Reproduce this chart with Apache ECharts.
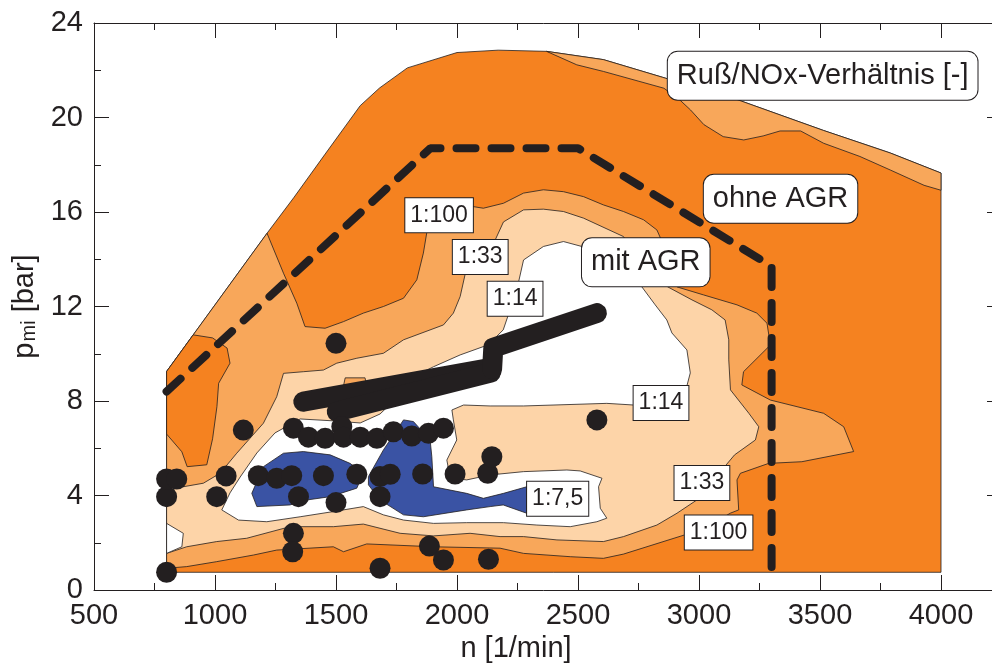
<!DOCTYPE html>
<html>
<head>
<meta charset="utf-8">
<script src="https://cdn.jsdelivr.net/npm/echarts/dist/echarts.min.js"></script>
<style>
  html, body { margin: 0; padding: 0; background: #fff; }
  #chart { width: 992px; height: 664px; }
</style>
</head>
<body>
<div id="chart"></div>
<script>
// contour regions of the Ruß/NOx map, [n 1/min, p_mi bar]
const envelope = [[800,0.75],[800,9.25],[1215,15.1],[1325,16.6],[1455,18.45],[1600,20.5],[1680,21.25],[1795,22.1],[2000,22.75],[2170,22.85],[2370,22.8],[2605,22.45],[2850,21.7],[3160,20.75],[3515,19.45],[3790,18.5],[4000,17.65],[4000,0.75]]
const stripTop = [[2370,22.8],[2605,22.45],[2850,21.7],[3160,20.75],[3515,19.45],[3790,18.5],[4000,17.65],[4000,16.92],[3930,17.13],[3790,17.78],[3665,18.35],[3515,18.91],[3420,19.43],[3335,19.43],[3265,19.22],[3185,19.05],[3100,19.19],[3020,19.7],[2965,20.32],[2920,20.75],[2855,21.24],[2605,21.95],[2495,22.23]]
const zone100 = [[800,9.25],[1215,15.1],[1283,13.41],[1338,12.14],[1372,11.15],[1455,11.08],[1531,11.36],[1613,11.72],[1696,12.0],[1779,12.35],[1834,13.13],[1861,14.26],[1875,15.12],[1930,15.88],[2066,16.23],[2109,16.16],[2192,16.37],[2275,16.8],[2357,16.94],[2440,16.86],[2523,16.65],[2605,16.3],[2688,16.02],[2771,15.67],[2826,15.24],[2881,13.97],[2909,12.83],[3019,12.49],[3157,12.07],[3239,11.72],[3281,11.29],[3295,10.37],[3184,9.24],[3177,8.68],[3295,8.04],[3515,7.48],[3598,6.91],[3639,5.86],[3425,5.43],[3288,5.36],[3171,4.94],[3157,4.66],[3164,3.39],[3129,3.25],[3047,2.75],[2940,2.33],[2688,1.52],[2605,1.34],[2468,1.41],[2275,1.55],[2178,1.77],[1903,1.83],[1627,1.95],[1531,1.62],[1489,1.83],[1255,1.69],[1159,1.48],[1007,1.2],[883,0.99],[800,0.92]]
const islandLow = [[800,6.6],[800,9.25],[910,10.8],[990,10.67],[1050,10.24],[1062,9.6],[1015,8.75],[1008,7.76],[990,6.4],[966,5.3],[885,5.22],[863,5.85]]
const patch100 = [[1529,8.55],[1538,8.98],[1620,8.98],[1629,8.55]]
const zone33 = [[800,1.55],[883,1.83],[1007,2.05],[1131,2.19],[1310,2.68],[1489,2.68],[1613,2.79],[1765,2.4],[1903,2.29],[2054,2.4],[2178,2.26],[2275,2.26],[2413,2.12],[2605,2.05],[2688,2.26],[2826,2.75],[2909,3.25],[2991,3.81],[3071,4.66],[3106,5.22],[3147,5.72],[3233,6.35],[3247,6.91],[3206,7.48],[3130,8.47],[3123,9.74],[3123,10.59],[3108,11.43],[3053,11.86],[2971,12.28],[2871,12.83],[2757,13.76],[2688,14.96],[2523,15.74],[2440,16.02],[2357,16.12],[2275,16.09],[2192,15.58],[2158,14.82],[2054,13.89],[2034,13.38],[2013,12.42],[1985,11.72],[1944,11.22],[1779,10.59],[1696,10.02],[1586,9.81],[1503,9.6],[1448,9.31],[1365,9.24],[1283,9.17],[1255,8.18],[1200,7.06],[1090,5.79],[1021,4.94],[952,4.52],[869,4.37],[800,4.37]]
const zone14 = [[1028,3.39],[1062,4.11],[1104,4.78],[1173,5.8],[1248,6.65],[1352,7.24],[1488,7.16],[1600,7.07],[1682,7.45],[1765,8.26],[1819,9.02],[1903,9.45],[2013,9.95],[2108,10.3],[2137,10.46],[2191,11.01],[2247,12.7],[2275,13.97],[2357,14.54],[2440,14.75],[2516,14.54],[2633,13.97],[2764,12.83],[2819,12.07],[2867,11.43],[2888,10.88],[2950,10.16],[2964,9.19],[2950,8.64],[2902,8.26],[2730,7.83],[2619,7.9],[2275,7.79],[2137,7.79],[2027,7.83],[1979,7.62],[1985,7.2],[1999,6.35],[1958,5.5],[1972,4.74],[2040,4.66],[2137,4.87],[2275,5.01],[2454,5.08],[2509,5.04],[2599,4.73],[2585,4.37],[2592,3.46],[2619,3.04],[2578,2.89],[2468,2.68],[2330,2.75],[2192,2.85],[2040,2.85],[1903,2.82],[1779,2.96],[1696,3.18],[1613,3.53],[1489,3.32],[1352,3.1],[1214,2.89],[1097,2.96]]
const hole14 = [[800,2.82],[869,2.4],[863,1.83],[800,1.55]]
const blueLeft = [[1152,4.09],[1200,5.22],[1283,5.79],[1365,5.86],[1476,5.72],[1558,5.36],[1613,4.94],[1586,4.31],[1476,3.95],[1379,3.81],[1310,3.6],[1173,3.53]]
const blueRight = [[1634,4.8],[1696,5.93],[1779,7.2],[1820,7.13],[1889,6.35],[1896,5.64],[1903,4.37],[2040,4.09],[2109,3.88],[2192,4.09],[2288,4.37],[2288,3.25],[2191,3.6],[2137,3.53],[2040,3.39],[1861,3.1],[1779,3.18],[1682,3.81],[1634,4.45]]

// measured operating points
const points = [[800,0.75],[800,3.95],[800,4.7],[842,4.7],[1007,3.95],[1046,4.83],[1117,6.77],[1500,10.44],[1179,4.84],[1255,4.73],[1317,4.84],[1345,3.95],[1448,4.84],[1500,3.7],[1586,4.9],[1682,4.8],[1724,4.9],[1682,3.95],[1858,4.91],[1992,4.91],[2127,4.94],[2144,5.64],[2578,7.2],[1324,2.4],[1321,1.62],[1682,0.92],[1886,1.86],[1944,1.27],[2130,1.3],[1324,6.85],[1386,6.47],[1455,6.42],[1524,6.91],[1531,6.47],[1600,6.47],[1669,6.42],[1737,6.7],[1813,6.52],[1882,6.63],[1944,6.85]]
const sweepA = [[1365,7.97],[2140,9.4]]
const sweepB = [[1503,7.55],[2140,9.2]]
const sweepC = [[2145,9.35],[2150,10.25],[2578,11.72]]
const ohneAGR = [[800,8.4],[1890,18.7],[2500,18.7],[3300,13.7],[3300,0.75]]

const ratioNames = ['1:100', '1:33', '1:14', '1:14', '1:33', '1:100', '1:7,5']
const ratioPos = [[1926,15.86],[2096,14.1],[2240,12.33],[2843,7.92],[3012,4.53],[3081,2.43],[2416,3.86]]
const noteNames = ['Ruß/NOx-Verhältnis [-]', 'ohne AGR', 'mit AGR']
const notePos = [[3511,21.77],[3337,16.56],[2780,13.87]]

const FONT = '"Liberation Sans", Arial, sans-serif'
const INK = '#231F20'
const C_DARK = '#F58220', C_MID = '#F8A75A', C_LIGHT = '#FDD4A8', C_BLUE = '#3A53A4'

const area = function (pts, color) {
    return {
        type: 'custom',
        coordinateSystem: 'cartesian2d',
        silent: true,
        z: 1,
        data: [pts[0]],
        renderItem: function (params, api) {
            return {
                type: 'polygon',
                shape: { points: pts.map(p => api.coord(p)) },
                style: { fill: color, stroke: INK, lineWidth: 0.8 }
            }
        }
    }
}

const sweep = function (pts) {
    return {
        type: 'line',
        data: pts,
        z: 4,
        showSymbol: false,
        silent: true,
        lineStyle: { color: INK, width: 20, cap: 'round', join: 'round', opacity: 1 }
    }
}

const tickAxis = {
    type: 'value',
    axisLine: { show: true, onZero: false, lineStyle: { color: INK, width: 1 } },
    axisTick: { inside: true, length: 15, lineStyle: { color: INK, width: 1 } },
    minorTick: { show: true, splitNumber: 2, length: 7, lineStyle: { color: INK, width: 1 } },
    splitLine: { show: false }
}

const plain = v => String(v)

const chart = echarts.init(document.getElementById('chart'))
chart.setOption({
    animation: false,
    backgroundColor: '#fff',
    grid: { left: 94, top: 23, width: 968, height: 567, containLabel: false, outerBoundsMode: 'none' },
    xAxis: [
        Object.assign({}, tickAxis, {
            min: 500, max: 4500, interval: 500, position: 'bottom',
            axisLabel: { fontSize: 29, color: INK, fontFamily: FONT, margin: 11, showMaxLabel: false, formatter: plain },
            name: 'n [1/min]', nameLocation: 'middle', nameGap: 39,
            nameTextStyle: { fontSize: 29, color: INK, fontFamily: FONT, padding: [0, 124, 0, 0] }
        }),
        Object.assign({}, tickAxis, {
            min: 500, max: 4500, interval: 500, position: 'top', axisLabel: { show: false }
        })
    ],
    yAxis: [
        Object.assign({}, tickAxis, {
            min: 0, max: 24, interval: 4, position: 'left',
            axisLabel: { fontSize: 29, color: INK, fontFamily: FONT, margin: 11, formatter: plain },
            name: '{p|p}{s|mi}{p| [bar]}', nameLocation: 'middle', nameGap: 50, nameRotate: 90,
            nameTextStyle: {
                color: INK, fontFamily: FONT,
                rich: {
                    p: { fontSize: 29, lineHeight: 29, verticalAlign: 'top', color: INK, fontFamily: FONT },
                    s: { fontSize: 20, lineHeight: 20, verticalAlign: 'bottom', padding: [16, 0, 0, 1], color: INK, fontFamily: FONT }
                }
            }
        }),
        Object.assign({}, tickAxis, {
            min: 0, max: 24, interval: 4, position: 'right', offset: -60, axisLabel: { show: false }
        })
    ],
    series: [
        area(envelope, C_DARK),
        area(stripTop, C_MID),
        area(zone100, C_MID),
        area(islandLow, C_DARK),
        area(zone33, C_LIGHT),
        area(hole14, '#fff'),
        area(zone14, '#fff'),
        area(patch100, C_MID),
        area(blueLeft, C_BLUE),
        area(blueRight, C_BLUE),
        {
            type: 'line',
            data: ohneAGR,
            z: 3,
            showSymbol: false,
            silent: true,
            lineStyle: { color: INK, width: 8, type: [19, 16], cap: 'round', opacity: 1 }
        },
        sweep(sweepA),
        sweep(sweepB),
        sweep(sweepC),
        {
            type: 'scatter',
            data: points,
            z: 5,
            symbolSize: 21,
            silent: true,
            itemStyle: { color: INK, opacity: 1 }
        },
        {
            type: 'scatter',
            z: 6,
            symbolSize: 0,
            silent: true,
            itemStyle: { opacity: 1 },
            data: ratioNames.map((n, i) => ({ name: n, value: ratioPos[i] })),
            label: {
                show: true, position: 'inside', formatter: '{b}', opacity: 1,
                fontSize: 23, lineHeight: 26, color: INK, fontFamily: FONT,
                backgroundColor: '#fff', borderColor: INK, borderWidth: 1, padding: [4, 5, 4, 5]
            }
        },
        {
            type: 'scatter',
            z: 6,
            symbolSize: 0,
            silent: true,
            itemStyle: { opacity: 1 },
            data: noteNames.map((n, i) => ({ name: n, value: notePos[i] })),
            label: {
                show: true, position: 'inside', formatter: '{b}', opacity: 1,
                fontSize: 29, lineHeight: 32, color: INK, fontFamily: FONT,
                backgroundColor: '#fff', borderColor: INK, borderWidth: 1, borderRadius: 10, padding: [8, 9, 8, 9]
            }
        }
    ]
})
</script>
</body>
</html>
